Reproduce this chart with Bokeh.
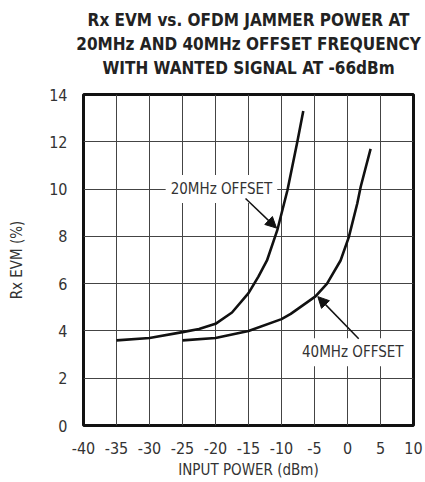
import math
from bokeh.plotting import figure
from bokeh.models import Range1d, FixedTicker, Label, Arrow, NormalHead, Title
from bokeh.embed import file_html
from bokeh.resources import INLINE

FONT = "DejaVu Sans Condensed"

title_lines = ["Rx EVM vs. OFDM JAMMER POWER AT",
               "20MHz AND 40MHz OFFSET FREQUENCY",
               "WITH WANTED SIGNAL AT -66dBm"]
x_ticks = [-40, -35, -30, -25, -20, -15, -10, -5, 0, 5, 10]
y_ticks = [0, 2, 4, 6, 8, 10, 12, 14]

# 20MHz offset series
x20 = [-35, -30, -25, -22.5, -20, -17.5, -15, -13.5, -12.2, -10.65, -9.1, -7.6, -6.7]
y20 = [3.6, 3.7, 3.95, 4.08, 4.3, 4.78, 5.6, 6.3, 6.98, 8.25, 9.95, 12.0, 13.3]
# 40MHz offset series
x40 = [-25, -20, -15, -10, -8.6, -4.85, -3.1, -1.05, 0.2, 1.47, 2.0, 2.75, 3.5]
y40 = [3.6, 3.7, 4.0, 4.5, 4.72, 5.46, 6.0, 6.98, 7.97, 9.38, 10.1, 10.9, 11.7]

p = figure(frame_width=330, frame_height=331,
           min_border_left=83, min_border_right=12,
           min_border_top=94, min_border_bottom=57,
           x_range=Range1d(-40, 10), y_range=Range1d(0, 14),
           output_backend="svg", toolbar_location=None)
p.background_fill_color = "white"
p.border_fill_color = "white"
p.outline_line_color = "#111111"
p.outline_line_width = 3

for ax, ticks in ((p.xaxis[0], x_ticks), (p.yaxis[0], y_ticks)):
    ax.ticker = FixedTicker(ticks=ticks)
    ax.major_label_overrides = {t: str(t) for t in ticks}
    ax.axis_line_color = None
    ax.major_tick_line_color = None
    ax.minor_tick_line_color = None
    ax.major_tick_in = 0
    ax.major_tick_out = 0
    ax.minor_tick_out = 0
    ax.major_label_text_font = FONT
    ax.major_label_text_font_size = "16px"
    ax.major_label_text_color = "#333333"
    ax.axis_label_text_font = FONT
    ax.axis_label_text_font_size = "15px"
    ax.axis_label_text_font_style = "normal"
    ax.axis_label_text_color = "#333333"

p.xaxis.axis_label = "INPUT POWER (dBm)"
p.yaxis.axis_label = "Rx EVM (%)"
p.xaxis.major_label_standoff = 16
p.xaxis.axis_label_standoff = 4
p.yaxis.major_label_standoff = 16
p.yaxis.axis_label_standoff = 20

p.xgrid.ticker = FixedTicker(ticks=x_ticks)
p.ygrid.ticker = FixedTicker(ticks=y_ticks)
for g in (p.xgrid[0], p.ygrid[0]):
    g.grid_line_color = "#444444"
    g.grid_line_width = 1

p.line(x20, y20, line_color="#111111", line_width=2.6)
p.line(x40, y40, line_color="#111111", line_width=2.6)

# annotations
p.add_layout(Label(x=-19.1, y=10.0, text="20MHz OFFSET", text_align="center",
                   text_baseline="middle", text_font=FONT, text_font_size="15px",
                   text_color="#333333", background_fill_color="white",
                   padding=5))
p.add_layout(Arrow(end=NormalHead(size=11, fill_color="#111111", line_color="#111111"),
                   x_start=-15.45, y_start=9.6, x_end=-10.75, y_end=8.35,
                   line_color="#111111", line_width=1.5))
p.add_layout(Label(x=0.8, y=3.1, text="40MHz OFFSET", text_align="center",
                   text_baseline="middle", text_font=FONT, text_font_size="15px",
                   text_color="#333333", background_fill_color="white",
                   padding=5))
p.add_layout(Arrow(end=NormalHead(size=11, fill_color="#111111", line_color="#111111"),
                   x_start=1.7, y_start=3.67, x_end=-4.5, y_end=5.45,
                   line_color="#111111", line_width=1.5))

# spacer between frame and title block
p.add_layout(Title(text=" ", text_font_size="1px", standoff=14), "above")
# title, three lines stacked (added nearest-first)
for txt, so in zip(reversed(title_lines), [0, 4, 0]):
    p.add_layout(Title(text=txt, align="center",
                       text_font=FONT, text_font_size="17px",
                       text_font_style="bold", text_color="#222222",
                       standoff=so), "above")

# side watermark in canvas units
p.add_layout(Label(x=420, y=95, x_units="canvas", y_units="canvas",
                   text="MAX2850 toc09", angle=math.pi / 2,
                   text_align="right", text_baseline="middle", text_font=FONT,
                   text_font_size="9px", text_color="#555555"))

open("out.html", "w").write(file_html(p, INLINE))
